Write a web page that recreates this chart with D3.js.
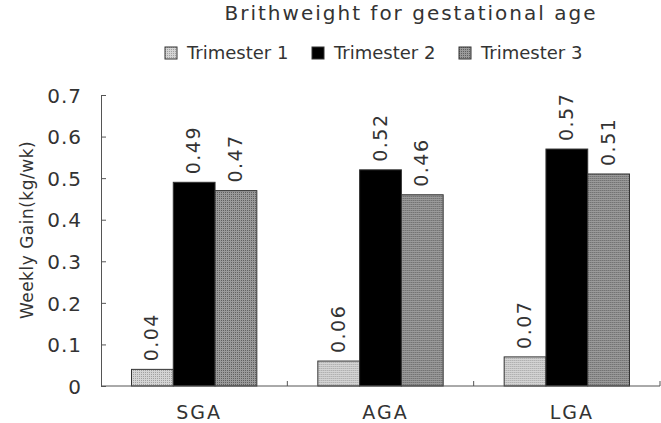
<!DOCTYPE html>
<head>
    <meta charset="UTF-8" />
    <style>
        body { margin: 0; padding: 0; background: #fff; }
        text { font-family: "DejaVu Sans", "Liberation Sans", sans-serif; fill: #333; }
    </style>
    <title>Brithweight</title>
</head>
<svg width="661" height="423"></svg>
<script src="https://d3js.org/d3.v7.min.js"></script>
<script>
    const categories = ["SGA", "AGA", "LGA"];
    const seriesNames = ["Trimester 1", "Trimester 2", "Trimester 3"];
    const trimester1 = [0.04, 0.06, 0.07];
    const trimester2 = [0.49, 0.52, 0.57];
    const trimester3 = [0.47, 0.46, 0.51];
    const yTicks = [0, 0.1, 0.2, 0.3, 0.4, 0.5, 0.6, 0.7];

    const series = [trimester1, trimester2, trimester3];
    const fills = ["url(#p1)", "#000", "url(#p3)"];

    const svg = d3.select("svg");
    const margin = { left: 101, right: 1, top: 95, bottom: 37 };
    const width = 661, height = 423;

    // dotted fills like the original
    const defs = svg.append("defs");
    function pattern(id, bg, dot) {
        const p = defs.append("pattern").attr("id", id)
            .attr("width", 2).attr("height", 2).attr("patternUnits", "userSpaceOnUse");
        p.append("rect").attr("width", 2).attr("height", 2).attr("fill", bg);
        p.append("rect").attr("width", 1).attr("height", 1).attr("fill", dot);
    }
    pattern("p1", "#d4d4d4", "#a0a0a0");
    pattern("p3", "#9a9a9a", "#606060");

    const x = d3.scaleBand().domain(categories)
        .range([margin.left, width - margin.right]).paddingInner(0).paddingOuter(0);
    const xs = d3.scaleBand().domain(d3.range(3)).range([0, x.bandwidth()])
        .paddingOuter(0.73).paddingInner(0);
    const y = d3.scaleLinear().domain([0, 0.7]).range([height - margin.bottom, margin.top]);

    // title
    svg.append("text").attr("x", 411).attr("y", 20).attr("text-anchor", "middle")
        .style("font-size", "20px").style("letter-spacing", "2px")
        .text("Brithweight for gestational age");

    // legend
    const legX = [165, 312, 459];
    const leg = svg.append("g").selectAll("g").data(seriesNames).enter().append("g")
        .attr("transform", (d, i) => `translate(${legX[i]},47)`);
    leg.append("rect").attr("width", 12).attr("height", 12)
        .attr("fill", (d, i) => fills[i]).attr("stroke", "#333").attr("stroke-width", 1);
    leg.append("text").attr("x", 22).attr("y", 12).style("font-size", "18px")
        .text(d => d);

    // y axis
    const yAxis = svg.append("g").attr("transform", `translate(${margin.left},0)`)
        .call(d3.axisRight(y).tickValues(yTicks).tickSize(5).tickFormat(d => d === 0 ? "0" : d3.format(".1f")(d)));
    yAxis.select(".domain").attr("stroke", "#555");
    yAxis.selectAll(".tick line").attr("stroke", "#555");
    yAxis.selectAll(".tick text").attr("x", -19).attr("dy", "0.36em").attr("text-anchor", "end")
        .style("font-size", "20px").style("letter-spacing", "1px").attr("fill", "#3a3a3a");

    svg.append("text").attr("transform", "translate(33,230) rotate(-90)")
        .attr("text-anchor", "middle").style("font-size", "17px").style("letter-spacing", "0.5px")
        .attr("fill", "#444")
        .text("Weekly Gain(kg/wk)");

    // bars
    const groups = svg.append("g").selectAll("g").data(categories).enter().append("g")
        .attr("transform", d => `translate(${x(d)},0)`);
    groups.selectAll("rect").data((d, ci) => series.map((s, si) => ({ si, v: s[ci] })))
        .enter().append("rect")
        .attr("x", d => xs(d.si)).attr("width", xs.bandwidth())
        .attr("y", d => y(d.v)).attr("height", d => y(0) - y(d.v))
        .attr("fill", d => fills[d.si]).attr("stroke", "#333").attr("stroke-width", 1);
    groups.selectAll(".lbl").data((d, ci) => series.map((s, si) => ({ si, v: s[ci] })))
        .enter().append("text")
        .attr("transform", d => `translate(${xs(d.si) + xs.bandwidth() / 2 + 6},${y(d.v) - 8}) rotate(-90)`)
        .style("font-size", "19px").style("letter-spacing", "1.5px").attr("fill", "#444")
        .text(d => d3.format(".2f")(d.v));

    // x axis
    const xAxis = svg.append("g").attr("transform", `translate(0,${y(0)})`);
    xAxis.append("line").attr("x1", margin.left).attr("x2", width - margin.right)
        .attr("stroke", "#555");
    xAxis.selectAll(".tk").data(categories).enter().append("line")
        .attr("x1", d => x(d) + x.bandwidth()).attr("x2", d => x(d) + x.bandwidth())
        .attr("y1", 0).attr("y2", -5).attr("stroke", "#555");
    xAxis.selectAll(".cl").data(categories).enter().append("text")
        .attr("x", d => x(d) + x.bandwidth() / 2 + 5).attr("y", 33)
        .attr("text-anchor", "middle").style("font-size", "19px").style("letter-spacing", "2px")
        .text(d => d);
</script>
